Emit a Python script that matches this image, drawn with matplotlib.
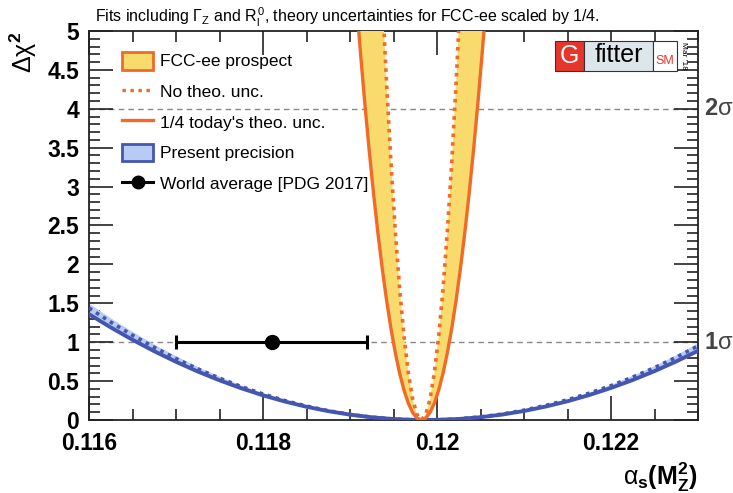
#!/usr/bin/env python
############################################################
import numpy as np
import matplotlib as mpl
mpl.use('agg')
import matplotlib.pyplot as plt
from matplotlib.patches import Patch, Rectangle
from matplotlib.lines import Line2D
from matplotlib import font_manager

mpl.rcParams['axes.unicode_minus'] = False
mpl.rcParams['font.family'] = ['Liberation Sans', 'DejaVu Sans']
mpl.rcParams['mathtext.fontset'] = 'custom'
mpl.rcParams['mathtext.rm'] = 'Liberation Sans'
mpl.rcParams['mathtext.it'] = 'Liberation Sans'
mpl.rcParams['mathtext.bf'] = 'Liberation Sans:bold'

names = {f.name for f in font_manager.fontManager.ttflist}
narrow = 'Liberation Sans Narrow' if 'Liberation Sans Narrow' in names else 'Liberation Sans'

############################################################
# present precision
############################################################
alpha_now = [0.11600, 0.11625, 0.11650, 0.11675, 0.11700, 0.11725, 0.11750, 0.11775,
             0.11800, 0.11825, 0.11850, 0.11875, 0.11900, 0.11925, 0.11950, 0.11975,
             0.12000, 0.12025, 0.12050, 0.12075, 0.12100, 0.12125, 0.12150, 0.12175,
             0.12200, 0.12225, 0.12250, 0.12275, 0.12300]
chi2_now_theo = [1.360, 1.190, 1.031, 0.884, 0.748, 0.623, 0.510, 0.408,
                 0.317, 0.238, 0.170, 0.114, 0.069, 0.035, 0.012, 0.001,
                 0.002, 0.013, 0.036, 0.070, 0.116, 0.173, 0.241, 0.321,
                 0.412, 0.514, 0.628, 0.753, 0.889]
chi2_now_notheo = [1.439, 1.258, 1.090, 0.934, 0.790, 0.658, 0.538, 0.430,
                   0.334, 0.250, 0.179, 0.119, 0.071, 0.036, 0.013, 0.001,
                   0.002, 0.015, 0.040, 0.076, 0.126, 0.187, 0.260, 0.345,
                   0.442, 0.552, 0.673, 0.807, 0.952]
chi2_now_upper = [1.499, 1.311, 1.136, 0.973, 0.823, 0.685, 0.560, 0.448,
                  0.348, 0.261, 0.186, 0.124, 0.074, 0.037, 0.013, 0.001,
                  0.002, 0.015, 0.041, 0.080, 0.131, 0.194, 0.271, 0.359,
                  0.461, 0.575, 0.701, 0.840, 0.992]

############################################################
# FCC-ee prospect
############################################################
alpha_fcc_theo = [0.11902, 0.11907, 0.11912, 0.11917, 0.11922, 0.11927, 0.11932, 0.11937,
                  0.11942, 0.11947, 0.11952, 0.11957, 0.11962, 0.11967, 0.11972, 0.11977,
                  0.11982, 0.11987, 0.11992, 0.11997, 0.12002, 0.12007, 0.12012, 0.12017,
                  0.12022, 0.12027, 0.12032, 0.12037, 0.12042, 0.12047, 0.12052, 0.12057,
                  0.12062]
chi2_fcc_theo = [6.172, 5.425, 4.726, 4.075, 3.472, 2.917, 2.411, 1.953,
                 1.543, 1.181, 0.868, 0.603, 0.386, 0.217, 0.096, 0.024,
                 0.000, 0.024, 0.096, 0.217, 0.386, 0.603, 0.868, 1.181,
                 1.543, 1.953, 2.411, 2.917, 3.472, 4.075, 4.726, 5.425,
                 6.172]
alpha_fcc_notheo = [0.11937, 0.11942, 0.11947, 0.11952, 0.11957, 0.11962, 0.11967, 0.11972,
                    0.11977, 0.11982, 0.11987, 0.11992, 0.11997, 0.12002, 0.12007, 0.12012,
                    0.12017, 0.12022, 0.12027]
chi2_fcc_notheo = [5.492, 4.339, 3.322, 2.441, 1.695, 1.085, 0.610, 0.271,
                   0.068, 0.000, 0.068, 0.271, 0.610, 1.085, 1.695, 2.441,
                   3.322, 4.339, 5.492]

# world average
wa_value = 0.1181
wa_error = 0.0011
wa_chi2  = 1.0

############################################################
orange = '#f06a2a'
yellow = '#f8db6c'
blue_l = '#b8cbf4'
blue_d = '#4456b0'

fig = plt.figure(figsize=(7.33, 4.93), dpi=100)
ax  = fig.add_axes([89/733, 1-420/493, 609/733, 389/493])

############################################################
# present precision band
ax.fill_between(alpha_now, chi2_now_theo, chi2_now_upper, color=blue_l, lw=0, zorder=2)
ax.plot(alpha_now, chi2_now_theo, color=blue_d, lw=2.8, zorder=3)
ax.plot(alpha_now, chi2_now_notheo, color=blue_d, lw=2.6, ls=(0, (1.0, 1.3)), zorder=3)

# FCC-ee band
ax.fill(np.r_[alpha_fcc_theo, alpha_fcc_notheo[::-1]],
        np.r_[chi2_fcc_theo, chi2_fcc_notheo[::-1]],
        color=yellow, lw=0, zorder=4)
ax.plot(alpha_fcc_theo, chi2_fcc_theo, color=orange, lw=2.4, zorder=5)
ax.plot(alpha_fcc_notheo, chi2_fcc_notheo, color=orange, lw=2.6, ls=(0, (1.0, 1.4)), zorder=5)

# sigma lines
for lev in (1, 4):
    ax.axhline(lev, color='#888888', lw=1.0, ls=(0, (4, 3)), zorder=1)

# world average
ax.errorbar([wa_value], [wa_chi2], xerr=[wa_error], fmt='o', color='black',
            ms=10, lw=2.2, capsize=5, capthick=2.2, zorder=6)

############################################################
ax.set_xlim(0.116, 0.123)
ax.set_ylim(0, 5)
ax.set_xticks([0.116, 0.118, 0.120, 0.122])
ax.set_xticklabels(['0.116', '0.118', '0.12', '0.122'])
ax.set_xticks(np.arange(0.116, 0.12301, 0.0005), minor=True)
ax.set_yticks(np.arange(0, 5.01, 0.5))
ax.set_yticklabels(['0', '0.5', '1', '1.5', '2', '2.5', '3', '3.5', '4', '4.5', '5'])
ax.set_yticks(np.arange(0, 5.01, 0.1), minor=True)

ax.tick_params(which='both', direction='in', top=True, right=True, width=1.2, color='#222222')
ax.tick_params(which='major', length=17, labelsize=16.5)
ax.tick_params(axis='x', which='major', pad=9)
ax.tick_params(axis='y', which='major', pad=7)
ax.tick_params(which='minor', length=8)
for lab in ax.get_xticklabels() + ax.get_yticklabels():
    lab.set_fontweight('bold')
for sp in ax.spines.values():
    sp.set_linewidth(1.3)
    sp.set_color('#222222')

ax.set_xlabel(r'$\alpha_\mathbf{s}\mathbf{(M_Z^2)}$', fontsize=18, loc='right', labelpad=4)
ax.set_ylabel(r'$\Delta\chi^\mathbf{2}$', fontsize=18, loc='top', labelpad=6)

# sigma labels
ax.text(1.01, 4, r'2$\sigma$', transform=ax.get_yaxis_transform(), fontsize=17,
        fontweight='bold', color='#444444', va='center', ha='left')
ax.text(1.01, 1, r'1$\sigma$', transform=ax.get_yaxis_transform(), fontsize=17,
        fontweight='bold', color='#444444', va='center', ha='left')

# title
fig.text(95/733, 1-17/493, r'Fits including $\Gamma_Z$ and $R_l^0$, theory uncertainties for FCC-ee scaled by 1/4.',
         fontsize=11.5, family=narrow, va='center', ha='left')

############################################################
# legend
handles = [
    Patch(facecolor=yellow, edgecolor=orange, lw=2),
    Line2D([], [], color=orange, lw=2.4, ls=(0, (1.0, 1.4))),
    Line2D([], [], color=orange, lw=2.4),
    Patch(facecolor=blue_l, edgecolor=blue_d, lw=2),
    Line2D([], [], color='black', lw=2.2, marker='o', ms=9),
]
labels = ['FCC-ee prospect', 'No theo. unc.', "1/4 today's theo. unc.",
          'Present precision', 'World average [PDG 2017]']
ax.legend(handles, labels, loc='upper left', bbox_to_anchor=(0.035, 0.978),
          frameon=False, fontsize=12.5, handlelength=1.75, handleheight=1.2,
          labelspacing=0.74, handletextpad=0.4, borderaxespad=0.3)

############################################################
# Gfitter logo
def px_rect(x0, y0, x1, y1, fc):
    fig.patches.append(Rectangle((x0/733, 1-y1/493), (x1-x0)/733, (y1-y0)/493,
                                 transform=fig.transFigure, facecolor=fc,
                                 edgecolor='#333333', lw=0.8, zorder=10))

px_rect(555, 41, 584, 71, '#e8352b')
px_rect(584, 41, 653, 71, '#dde6ea')
px_rect(653, 41, 677, 71, 'white')
fig.text(569.5/733, 1-56/493, 'G', color='white', fontsize=18, ha='center', va='center', zorder=11)
fig.text(618.5/733, 1-55/493, 'fitter', color='black', fontsize=18, ha='center', va='center', zorder=11)
fig.text(665/733, 1-61/493, 'SM', color='#e8352b', fontsize=9, ha='center', va='center', zorder=11)
fig.text(684/733, 1-56/493, "Mar '18", fontsize=6, rotation=-90, ha='center', va='center', zorder=11)

plt.savefig('out.png', dpi=100)
